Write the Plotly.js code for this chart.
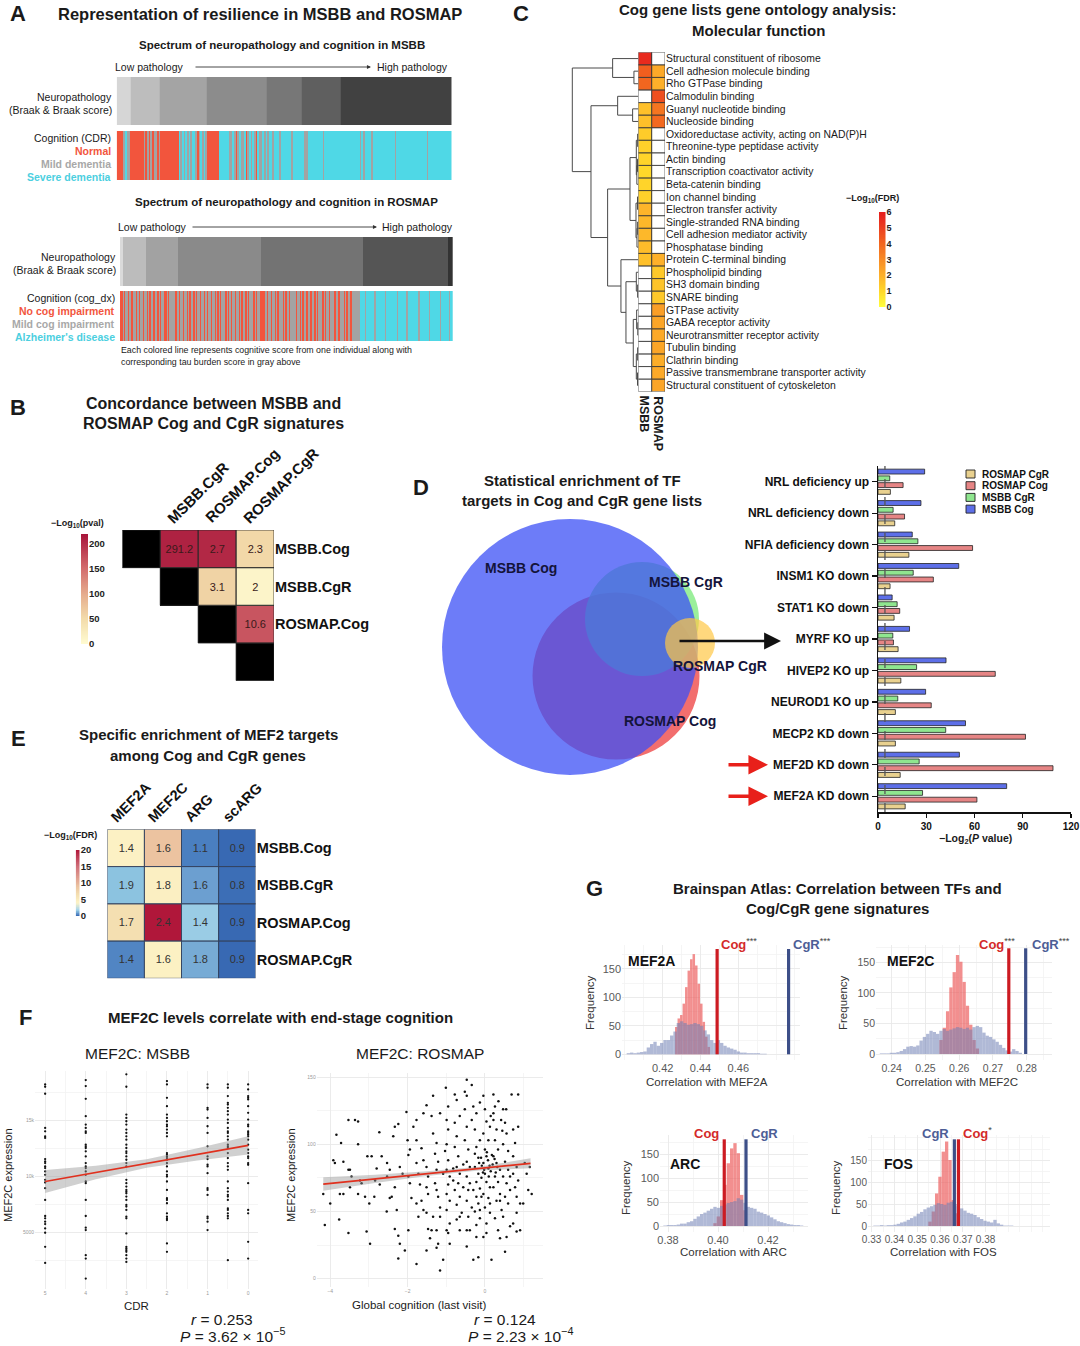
<!DOCTYPE html>
<html>
<head>
<meta charset="utf-8">
<script src="https://cdn.plot.ly/plotly-3.0.1.min.js"></script>
<style>
html,body{margin:0;padding:0;background:#ffffff;}
#fig{width:1080px;height:1346px;}
</style>
</head>
<body>
<div id="fig"></div>
<script>
// ======================= DATA =======================
// --- Panel A: Braak stage shares (% of individuals, stages 0..6) and cognition per individual
const braakStages = [0, 1, 2, 3, 4, 5, 6];
const msbbBraakShare = [4.3, 8.6, 14.1, 17.9, 10.2, 11.8, 33.1];
const rosmapBraakShare = [1.0, 6.8, 9.5, 25.0, 30.6, 25.8, 1.3];
const cognitionClasses = ['R', 'G', 'C']; // normal / mild / severe
const msbbCognition = ["RRRR","GCGG","RRRRRRRR","GRG","RGRGGRG","RRRRRRRRRRR","CGCGC","GCGCCGRGCGCG","RRRRRRR","CCCCCCG",
  "GCGRGCGGCRGCGCGRCGGCGC","GCCGCCCGCC","CCCCGCCCCC","CCGGCCCCCC","CCCGCCCCCC","CCCCCCCCCC","CCCCCGCGCC",
  "CCGCCCCCCC","CCCCCCGCCC","CCCCCCCCCC","CCCCCGCCCC","CCCCCCCCCC"].join('');
const rosmapCognition = ["RRGRGGRGRRGGRGRGGRGG","RGRGGRGGRGRGGRRGRGGG","GRRGRGGRGGRGRGGRGRGG","RGGRGRGGRGGRGRGRGGGR",
  "GRGRGGRGGRGRGGRGRGGG","RGRGGRRRRGRGGRGGRGRG","GGRGRGGRGGGGRGGRGRGG","RGGRGGRGRGGGRGRGGRGG","GRGGRGGGRGRGGRGGGGGG",
  "CCCCGCCCCC","CGCCCCCCCG","CCCCCCCCGC","CCCCCGCCCC","CCCCGCCCCC","CCGCCCCCCC","GCCCCCCGCC"].join('');

// --- Panel C: GO molecular function, -log10(FDR)
const goTerms = ["Structural constituent of ribosome","Cell adhesion molecule binding","Rho GTPase binding","Calmodulin binding",
  "Guanyl nucleotide binding","Nucleoside binding","Oxidoreductase activity, acting on NAD(P)H","Threonine-type peptidase activity",
  "Actin binding","Transcription coactivator activity","Beta-catenin binding","Ion channel binding","Electron transfer activity",
  "Single-stranded RNA binding","Cell adhesion mediator activity","Phosphatase binding","Protein C-terminal binding",
  "Phospholipid binding","SH3 domain binding","SNARE binding","GTPase activity","GABA receptor activity",
  "Neurotransmitter receptor activity","Tubulin binding","Clathrin binding","Passive transmembrane transporter activity",
  "Structural constituent of cytoskeleton"];
const goColumns = ['MSBB', 'ROSMAP'];
const goMSBB = [5.6,4.2,4.0,null,1.6,1.6,1.3,1.2,1.1,1.0,1.1,1.2,1.9,1.8,1.8,1.7,1.6,null,null,null,null,null,null,null,null,null,null];
const goROSMAP = [null,2.2,2.0,4.6,3.6,3.9,null,null,null,null,null,null,null,null,null,null,2.0,1.4,1.5,1.4,2.5,2.3,2.2,2.3,2.1,2.2,2.3];
// dendrogram: [left, right, mergeHeight], leaves are row indices
const goTree = [[0,[1,2,0.66],3.89],
  [[3,[4,5,0.86],3.13],
   [[[[6,7,0.1],[[8,9,0.12],10,0.22],0.3],[[11,12,0.12],[[13,14,0.1],15,0.2],0.35],1.26],
    [16,[[17,[18,19,0.1],0.3],[[20,[21,22,0.08],0.25],[[23,24,0.1],[25,26,0.12],0.3],0.76],1.87],2.63],4.65],7.17],10];

// --- Panel B: concordance
const sigNames = ['MSBB.Cog','MSBB.CgR','ROSMAP.Cog','ROSMAP.CgR'];
const overlapNegLogP = [[null,210,205,55],[null,null,60,12],[null,null,null,170],[null,null,null,null]];
const overlapOddsRatio = [[null,291.2,2.7,2.3],[null,null,3.1,2],[null,null,null,10.6],[null,null,null,null]];

// --- Panel D: TF target enrichment, -log2(P)
const tfLists = ["NRL deficiency up","NRL deficiency down","NFIA deficiency down","INSM1 KO down","STAT1 KO down","MYRF KO up",
  "HIVEP2 KO up","NEUROD1 KO up","MECP2 KD down","MEF2D KD down","MEF2A KD down"];
const tfMSBBCog   = [29.0,26.7,21.3,50.2,8.8,19.6,42.3,29.6,54.4,50.6,80.0];
const tfMSBBCgR   = [7.3,9.4,24.8,21.9,11.9,9.2,24.0,12.3,42.1,25.6,27.7];
const tfROSMAPCog = [15.6,16.5,58.8,34.4,13.5,9.6,72.9,33.1,91.7,108.8,61.5];
const tfROSMAPCgR = [7.7,10.4,19.2,7.5,10.0,12.5,14.2,10.8,10.8,13.8,16.9];
const tfThreshold = 4.32; // -log2(0.05)
const tfHighlighted = ["MEF2D KD down", "MEF2A KD down"];
const vennNames = ['ROSMAP Cog','MSBB CgR','MSBB Cog','ROSMAP CgR'];
const vennCX = [186, 212, 140, 260];
const vennCY = [114, 171, 143, 147];
const vennR  = [83.5, 57, 128, 25];

// --- Panel E: MEF2 target enrichment
const mefTargets = ['MEF2A','MEF2C','ARG','scARG'];
const mefNegLogFDR = [[4.2,9.0,0.5,0.1],[1.6,4.5,1.0,0.2],[6.5,20,1.8,0.1],[0.6,4.3,1.2,0.1]];
const mefOddsRatio = [[1.4,1.6,1.1,0.9],[1.9,1.8,1.6,0.8],[1.7,2.4,1.4,0.9],[1.4,1.6,1.8,0.9]];

// --- Panel F: MEF2C expression vs cognition
const msbbCDR = [5, 4, 3, 2, 1, 0.5, 0];
const msbbMEF2C = [
  [18250,18040,17410,14350,14050,13600,13450,11560,11350,11200,10900,10750,10450,10150,9700,9460,8950,7900,6460,6250,5950,5740,5350,4960,3700,2260],
  [18640,18100,16960,15400,14650,14350,14050,13900,12850,12700,12550,12250,11800,11200,10900,10750,10450,10150,9550,9400,7900,6460,5410,5200,2950,2650,850],
  [19150,18040,15550,15250,14950,14650,14200,13900,13600,13300,12850,12550,12250,12100,11800,11500,11200,10900,9700,9400,9100,8800,8650,8500,8200,7900,7450,7300,7000,6400,6250,4900,3700,3550,3400,3250,2950,2650,2350],
  [18550,18250,17050,16300,15550,15250,14950,14650,14500,14200,13900,13600,12100,11950,11800,11650,11500,11200,10900,10450,10150,10000,9550,8800,8050,7900,7600,6700,6400,6250,6100,4000,3250],
  [18250,17950,16150,16000,15250,14500,13900,12700,11800,11560,11050,10900,10300,8950,8800,8350,6400,6250,5950,5200],
  [18250,17950,17200,16600,16450,16150,15850,15550,15100,14800,14350,14050,13900,13600,13300,12850,12700,12550,12100,11650,11200,10900,10600,9550,8950,8650,8350,8200,7900,7150,7000,6700,6460,6250,2500],
  [18250,17800,17200,17050,16900,16300,15700,15100,14650,14500,14050,13900,13750,13600,13300,12850,12400,12100,11800,11650,11200,11050,9400,7000,6700,4150,2650]];
const msbbFitCDR  = [5, 3.75, 2.5, 1.25, 0];
const msbbFitMean = [9550, 10360, 11170, 11980, 12790];
const msbbFitLow  = [8530, 9760, 10790, 11430, 11965];
const msbbFitHigh = [10570, 10960, 11550, 12530, 13615];
const rosmapPoints = [
 [-4.18,63],[-4.0,56],[-4.14,40],[-3.77,44],[-3.84,107],[-3.72,101],[-3.92,88],[-3.88,86],[-3.66,87],[-3.53,118],[-3.36,118],[-3.28,117],
 [-3.53,81],[-3.49,81],[-3.45,76],[-3.49,68],[-3.66,63],[-3.75,63],[-3.53,34],[-3.28,100],[-3.23,73],[-3.19,71],[-3.28,63],[-3.1,61],
 [-2.97,26],[-3.06,35],[-3.04,91],[-2.93,91],[-2.73,109],[-2.67,91],[-2.8,82],[-2.84,73],[-2.99,56],[-2.86,61],[-2.72,70],[-2.53,86],
 [-2.53,76],[-2.33,113],[-2.24,115],[-2.37,106],[-2.46,81],[-2.33,68],[-2.41,61],[-2.28,51],[-2.54,50],[-2.46,60],[-2.33,37],[-2.24,15],
 [-2.2,26],[-2.24,32],[-2.2,83],[-2.13,78],
 [-2.03,124],[-2.0,103],[-1.98,92],[-1.98,76],[-1.94,71],[-1.9,60],[-1.98,36],[-2.07,21],[-1.85,113],[-1.77,103],[-1.77,86],[-1.72,78],
 [-1.68,70],[-1.64,58],[-1.77,56],[-1.72,46],[-1.59,123],[-1.64,97],[-1.59,88],[-1.51,83],[-1.47,76],[-1.51,68],[-1.47,63],[-1.51,49],
 [-1.38,36],[-1.42,30],[-1.51,21],[-1.77,11],[-1.34,136],[-1.38,121],[-1.34,108],[-1.25,101],[-1.29,93],[-1.21,87],[-1.25,81],[-1.29,71],
 [-1.25,66],[-1.21,61],[-1.16,53],[-1.34,46],[-1.47,37],[-1.25,36],[-1.21,26],[-1.16,6],[-1.08,14],
 [-1.01,142],[-0.99,118],[-0.95,111],[-0.99,100],[-1.03,95],[-0.95,88],[-0.99,81],[-0.91,76],[-0.95,70],[-0.99,63],[-0.91,58],[-0.99,51],
 [-0.91,41],[-0.95,34],[-0.91,26],[-0.78,137],[-0.73,133],[-0.78,116],[-0.73,106],[-0.78,98],[-0.69,91],[-0.73,83],[-0.65,78],[-0.69,71],
 [-0.78,66],[-0.65,61],[-0.73,55],[-0.6,49],[-0.73,44],[-0.65,36],[-0.52,139],[-0.52,126],[-0.47,113],[-0.52,103],[-0.43,96],[-0.47,87],
 [-0.39,83],[-0.47,76],[-0.39,71],[-0.43,66],[-0.47,58],[-0.34,53],[-0.43,46],[-0.39,36],[-0.47,24],[-0.22,123],[-0.26,111],[-0.22,98],
 [-0.17,90],[-0.26,83],[-0.17,78],[-0.22,72],[-0.13,67],[-0.22,61],[-0.17,56],[-0.26,50],[-0.13,45],[-0.22,40],[-0.17,16],[-0.3,14],
 [-0.34,144],[-0.3,128],[-0.34,118],[-0.04,136],[0,126],[0.04,117],[-0.04,108],[0.09,103],[0,96],[0.04,91],[-0.04,86],[0.09,82],
 [0,78],[-0.09,75],[0.04,72],[0.13,68],[-0.04,63],[0.09,60],[0,53],[0.13,49],[0.04,41],[-0.04,31],[0.22,137],[0.26,128],
 [0.22,118],[0.3,111],[0.26,103],[0.34,96],[0.22,91],[0.3,86],[0.39,81],[0.26,76],[0.34,72],[0.22,68],[0.39,63],[0.3,58],
 [0.43,51],[0.26,45],[0.34,36],[0.17,14],[0.47,126],[0.52,116],[0.56,108],[0.47,100],[0.6,95],[0.52,87],[0.6,81],[0.47,76],
 [0.56,71],[0.65,66],[0.52,61],[0.6,56],[0.47,46],[0.65,39],[0.56,31],[0.52,20],[0.69,137],[0.73,111],[0.78,101],[0.73,91],
 [0.82,83],[0.73,78],[0.86,73],[0.78,68],[0.82,61],[0.91,56],[0.82,49],[0.73,41],[0.86,113],[1.03,86],[1.08,78],[1.12,66],
 [0.99,56],[1.16,83],[1.21,63],[0.91,36],[0.82,35],
 [-1.51,129],[-1.77,118],[-1.94,96],[-1.16,123],[-0.95,128],[-0.65,121],[-0.13,131],[-0.47,136],[0.22,123],[0.13,113],[-0.13,103],[-0.26,93],
 [-0.56,85],[-0.82,82],[-1.08,78],[-0.82,73],[-0.56,68],[-0.3,66],[-0.09,61],[0.13,56],[0.39,58],[0.65,76],[-0.13,51],[-0.65,46],
 [-1.16,46],[-1.59,51],[-0.99,36],[-0.47,36],[0.04,34],[0.39,30],[-0.22,31],[-1.25,23],
 [0.08,88],[-0.08,84],[0.15,80],[0.2,85],[-0.1,90],[0.1,76],[0.18,92],[-0.02,81],[0.28,79],[0.05,94],[-0.15,86],[0.25,89],
 [0.12,84],[-0.05,79],[0.32,83],[0.35,132],[0.42,118],[0.15,121],[0.55,126],[0.45,110],[-0.47,148],[0.86,137]];
const rosmapFitX    = [-4.18, -2.84, -1.5, -0.16, 1.18];
const rosmapFitMean = [70.4, 74.25, 78.1, 81.95, 85.8];
const rosmapFitLow  = [65.4, 71.25, 76.3, 80.55, 82.1];
const rosmapFitHigh = [75.4, 77.25, 79.9, 83.35, 89.5];

// --- Panel G: null-distribution histograms (bin start, bin width, counts) and observed correlations
const mef2aCogStart = 0.42653, mef2aCogWidth = 0.001323;
const mef2aCogNull = [48,63,69,89,118,147,167,176,156,124,89,57,31,13];
const mef2aCgRStart = 0.40095, mef2aCgRWidth = 0.001764;
const mef2aCgRNull = [2,3,2,3,4,5,12,18,22,15,20,25,25,33,40,55,58,55,52,53,55,53,50,42,35,25,20,25,20,15,12,10,8,5,3,3,2,2,2,2,1,1];
const mef2aObserved = {Cog: 0.4488, CgR: 0.4866};
const mef2cCogStart = 0.25412, mef2cCogWidth = 0.00098;
const mef2cCogNull = [23,43,70,109,134,162,151,118,79,48,23,9];
const mef2cCgRStart = 0.23647, mef2cCgRWidth = 0.00098;
const mef2cCgRNull = [1,1,1,2,2,3,5,8,12,13,12,14,22,28,33,38,36,33,38,41,38,40,42,44,43,41,43,40,44,46,44,35,30,28,24,20,15,10,6,4,8,5,2];
const mef2cObserved = {Cog: 0.2747, CgR: 0.2797};
const arcCogStart = 0.39813, arcCogWidth = 0.001333;
const arcCogNull = [6,20,54,86,131,162,173,152,65,33];
const arcCgRStart = 0.37813, arcCgRWidth = 0.001333;
const arcCgRNull = [1,2,2,2,3,5,5,8,10,15,20,25,28,32,36,40,38,42,45,48,50,52,58,55,48,40,38,36,30,28,25,22,18,14,10,8,6,4,3,2,2,1];
const arcObserved = {Cog: 0.4025, CgR: 0.4112};
const fosCogStart = 0.35487, fosCogWidth = 0.001462;
const fosCogNull = [10,33,74,112,169,192,150,59,29];
const fosCgRStart = 0.33075, fosCgRWidth = 0.001462;
const fosCgRNull = [1,1,2,1,2,2,3,5,8,10,14,18,22,28,32,38,42,45,48,52,50,48,53,55,50,45,40,35,30,28,25,20,16,12,10,8,14,6,3,1,1,1];
const fosObserved = {Cog: 0.3681, CgR: 0.3663};

// ======================= DRAWING =======================
const FONT = 'Liberation Sans, Arial, Helvetica, sans-serif';
const W = 1080, H = 1346;
const fx = v => v / W, fy = v => 1 - v / H;
const COG_RED = '#f2553d', COG_GREY = '#a3a3a3', COG_CYAN = '#4fd8e6';
const GRID = '#e8e8e8', GRID2 = '#f3f3f3';

const layout = {
  width: W, height: H, margin: {l: 0, r: 0, t: 0, b: 0, pad: 0},
  paper_bgcolor: '#ffffff', plot_bgcolor: 'rgba(0,0,0,0)',
  font: {family: FONT, size: 11, color: '#222'},
  barmode: 'group', bargap: 0.14, bargroupgap: 0.28,
  hovermode: false, showlegend: false, dragmode: false,
  annotations: [], shapes: []
};
const data = [];
let nAx = 0;
const baseAx = {showgrid: false, zeroline: false, showticklabels: false, ticks: '', showline: false, fixedrange: true, automargin: false};
function axes(xPx, yPx, xo, yo) {
  nAx++;
  const s = nAx === 1 ? '' : String(nAx);
  layout['xaxis' + s] = Object.assign({}, baseAx, {domain: [xPx[0] / W, xPx[1] / W], anchor: 'y' + s}, xo || {});
  layout['yaxis' + s] = Object.assign({}, baseAx, {domain: [1 - yPx[1] / H, 1 - yPx[0] / H], anchor: 'x' + s}, yo || {});
  return {x: 'x' + s, y: 'y' + s};
}
function txt(text, x, y, size, o) {
  o = o || {};
  const a = {text: o.bold ? '<b>' + text + '</b>' : text, xref: 'paper', yref: 'paper', x: fx(x), y: fy(y),
    showarrow: false, xanchor: o.xa || 'center', yanchor: o.ya || 'middle', align: 'center', borderpad: 0,
    font: {family: FONT, size: size, color: o.color || '#1a1a1a'}};
  if (o.angle !== undefined) a.textangle = o.angle;
  layout.annotations.push(a);
}
function arrow(x0, x1, y, color, width, size) {
  layout.annotations.push({xref: 'paper', yref: 'paper', x: fx(x1), y: fy(y), ax: x0 - x1, ay: 0, text: '',
    showarrow: true, arrowhead: 2, arrowsize: size, arrowwidth: width, arrowcolor: color, standoff: 0});
}
function cellBox(ax, c, r, color, w) {
  layout.shapes.push({type: 'rect', xref: ax.x, yref: ax.y, x0: c - 0.5, x1: c + 0.5, y0: r - 0.5, y1: r + 0.5,
    line: {color: color, width: w}, fillcolor: 'rgba(0,0,0,0)', layer: 'above'});
}
function strip(levels) { return levels.map(v => [v]); }
function rangeSteps(a, b, n) { const o = []; for (let i = 0; i <= n; i++) o.push(a + (b - a) * i / n); return o; }

// ---------------- Panel A ----------------
txt('A', 18, 14, 22, {bold: true});
txt('Representation of resilience in MSBB and ROSMAP', 260, 14, 16.5, {bold: true});
function cumEdges(share) { const e = [0]; share.forEach(v => e.push(e[e.length - 1] + v)); return e; }
function discreteScale(colors) { return colors.map((c, i) => [i / (colors.length - 1), c]); }
function braakBar(xPx, yPx, share, greys) {
  const ax = axes(xPx, yPx, {range: [0, 100]}, {range: [-0.5, 0.5]});
  data.push({type: 'heatmap', xaxis: ax.x, yaxis: ax.y, x: cumEdges(share), y: [0], z: [braakStages], zmin: 0, zmax: 6,
    colorscale: discreteScale(greys), showscale: false, hoverinfo: 'skip'});
}
function cogStrip(xPx, yPx, str) {
  const codes = [...str].map(ch => cognitionClasses.indexOf(ch));
  const ax = axes(xPx, yPx, {range: [-0.5, codes.length - 0.5]}, {range: [-0.5, 0.5]});
  data.push({type: 'heatmap', xaxis: ax.x, yaxis: ax.y, z: [codes], zmin: 0, zmax: 2,
    colorscale: [[0, COG_RED], [0.5, COG_GREY], [1, COG_CYAN]], showscale: false, hoverinfo: 'skip'});
}
txt('Spectrum of neuropathology and cognition in MSBB', 282, 45, 11.5, {bold: true});
txt('Low pathology', 114, 67, 10.5, {xa: 'left'});
arrow(194, 371, 67, '#333', 0.9, 0.9);
txt('High pathology', 449, 67, 10.5, {xa: 'right'});
braakBar([116.7, 451.7], [77, 125], msbbBraakShare, ['#d6d6d6','#bdbdbd','#a4a4a4','#8c8c8c','#777777','#5f5f5f','#414141']);
cogStrip([116.7, 451.7], [131, 180], msbbCognition);
txt('Neuropathology', 113, 97, 10.5, {xa: 'right'});
txt('(Braak &amp; Braak score)', 113, 110, 10.5, {xa: 'right'});
txt('Cognition (CDR)', 112, 138, 10.5, {xa: 'right'});
txt('Normal', 112, 151, 10.5, {xa: 'right', bold: true, color: COG_RED});
txt('Mild dementia', 112, 164, 10.5, {xa: 'right', bold: true, color: '#a8a8a8'});
txt('Severe dementia', 112, 177, 10.5, {xa: 'right', bold: true, color: '#4ccfdf'});

txt('Spectrum of neuropathology and cognition in ROSMAP', 286, 202, 11.5, {bold: true});
txt('Low pathology', 117, 227, 10.5, {xa: 'left'});
arrow(191, 377, 227, '#333', 0.9, 0.9);
txt('High pathology', 454, 227, 10.5, {xa: 'right'});
braakBar([120, 452.7], [237, 286], rosmapBraakShare, ['#dadada','#bcbcbc','#a2a2a2','#8a8a8a','#737373','#555555','#333333']);
cogStrip([120, 452.7], [291, 341], rosmapCognition);
txt('Neuropathology', 117, 257, 10.5, {xa: 'right'});
txt('(Braak &amp; Braak score)', 117, 270, 10.5, {xa: 'right'});
txt('Cognition (cog_dx)', 116, 298, 10.5, {xa: 'right'});
txt('No cog impairment', 116, 311, 10.5, {xa: 'right', bold: true, color: COG_RED});
txt('Mild cog impairment', 116, 324, 10.5, {xa: 'right', bold: true, color: '#a8a8a8'});
txt("Alzheimer's disease", 116, 337, 10.5, {xa: 'right', bold: true, color: '#4ccfdf'});
txt('Each colored line represents cognitive score from one individual along with', 120, 350, 8.8, {xa: 'left'});
txt('corresponding tau burden score in gray above', 120, 362, 8.8, {xa: 'left'});

// ---------------- Panel C ----------------
txt('C', 521, 14, 22, {bold: true});
txt('Cog gene lists gene ontology analysis:', 758, 10, 15, {bold: true});
txt('Molecular function', 758, 30, 15, {bold: true});
const rowIdx = goTerms.map((_, i) => i);
const axDen = axes([570, 638.3], [52.3, 391.7], {range: [10.35, 0]}, {range: [goTerms.length - 0.5, -0.5]});
const segs = {x: [], y: []};
(function dendro(node) {
  if (typeof node === 'number') return {pos: node, h: 0};
  const L = dendro(node[0]), R = dendro(node[1]), h = node[2];
  segs.x.push(L.h, h, h, R.h, null);
  segs.y.push(L.pos, L.pos, R.pos, R.pos, null);
  return {pos: (L.pos + R.pos) / 2, h: h};
})(goTree);
data.push({type: 'scatter', mode: 'lines', xaxis: axDen.x, yaxis: axDen.y, x: segs.x, y: segs.y,
  line: {color: '#4a4a4a', width: 1}, showlegend: false, hoverinfo: 'skip'});
const goScale = [[0,'#ffff3c'],[0.17,'#ffd72a'],[0.33,'#fdb12a'],[0.5,'#f88b25'],[0.67,'#f2651f'],[0.83,'#ec4020'],[1,'#e51c1c']];
const axGO = axes([638.3, 665], [52.3, 391.7], {range: [-0.5, 1.5]},
  {range: [goTerms.length - 0.5, -0.5], side: 'right', showticklabels: true, tickmode: 'array', tickvals: rowIdx, ticktext: goTerms,
   tickfont: {family: FONT, size: 10.4, color: '#1a1a1a'}});
data.push({type: 'heatmap', xaxis: axGO.x, yaxis: axGO.y, x: [0, 1], y: rowIdx,
  z: goTerms.map((_, r) => [goMSBB[r], goROSMAP[r]]), zmin: 0, zmax: 6, colorscale: goScale, showscale: false, hoverinfo: 'skip'});
goTerms.forEach((_, r) => goColumns.forEach((__, c) => cellBox(axGO, c, r, '#3a3a3a', 0.7)));
goColumns.forEach((name, c) => layout.annotations.push({text: '<b>' + name + '</b>', xref: axGO.x, yref: 'paper', x: c, y: fy(394),
  xanchor: 'center', yanchor: 'top', textangle: 90, showarrow: false, font: {family: FONT, size: 12.5, color: '#1a1a1a'}}));
const goLevels = rangeSteps(0, 6, 120);
const axGOcb = axes([879, 885.5], [212, 307], {range: [-0.5, 0.5]},
  {range: [0, 6], side: 'right', showticklabels: true, tickmode: 'array', tickvals: [0,1,2,3,4,5,6],
   ticktext: [0,1,2,3,4,5,6].map(v => '<b>' + v + '</b>'), tickfont: {family: FONT, size: 9, color: '#222'}});
data.push({type: 'heatmap', xaxis: axGOcb.x, yaxis: axGOcb.y, x: [0], y: goLevels, z: strip(goLevels), zmin: 0, zmax: 6,
  colorscale: goScale, showscale: false, hoverinfo: 'skip'});
txt('−Log<sub>10</sub>(FDR)', 872, 198, 9, {bold: true});

// ---------------- Panel B ----------------
txt('B', 18, 407, 22, {bold: true});
txt('Concordance between MSBB and', 213, 403, 16, {bold: true});
txt('ROSMAP Cog and CgR signatures', 213, 423, 16, {bold: true});
const bScale = [[0,'#fffcd2'],[0.23,'#f3dcab'],[0.45,'#e6ae8e'],[0.7,'#d26a6c'],[1,'#a8153a']];
const sIdx = sigNames.map((_, i) => i);
const axB = axes([122.3, 274], [530, 680.7], {range: [-0.5, 3.5]},
  {range: [3.5, -0.5], side: 'right', showticklabels: true, tickmode: 'array', tickvals: [0, 1, 2],
   ticktext: sigNames.slice(0, 3).map(s => '<b>' + s + '</b>'), tickfont: {family: FONT, size: 14.5, color: '#111'}});
data.push({type: 'heatmap', xaxis: axB.x, yaxis: axB.y, x: sIdx, y: sIdx, z: overlapNegLogP, zmin: 0, zmax: 220, colorscale: bScale,
  text: overlapOddsRatio.map(r => r.map(v => v === null ? '' : String(v))), texttemplate: '%{text}',
  textfont: {family: FONT, size: 11, color: '#3a1a1a'}, showscale: false, hoverinfo: 'skip'});
data.push({type: 'heatmap', xaxis: axB.x, yaxis: axB.y, x: sIdx, y: sIdx,
  z: sigNames.map((_, r) => sigNames.map((__, c) => r === c ? 1 : null)), colorscale: [[0, '#000'], [1, '#000']],
  showscale: false, hoverinfo: 'skip'});
sigNames.forEach((_, r) => sigNames.forEach((__, c) => { if (c >= r) cellBox(axB, c, r, '#2a2a2a', 0.8); }));
sigNames.slice(1).forEach((name, i) => layout.annotations.push({text: '<b>' + name + '</b>', xref: axB.x, yref: 'paper',
  x: i + 1, y: fy(529), xanchor: 'left', yanchor: 'bottom', xshift: -18, textangle: -45, showarrow: false,
  font: {family: FONT, size: 15, color: '#111'}}));
const bLevels = rangeSteps(0, 220, 110);
const axBcb = axes([81, 88], [534, 644], {range: [-0.5, 0.5]},
  {range: [0, 220], side: 'right', showticklabels: true, tickmode: 'array', tickvals: [0, 50, 100, 150, 200],
   ticktext: [0, 50, 100, 150, 200].map(v => '<b>' + v + '</b>'), tickfont: {family: FONT, size: 9.5, color: '#222'}});
data.push({type: 'heatmap', xaxis: axBcb.x, yaxis: axBcb.y, x: [0], y: bLevels, z: strip(bLevels), zmin: 0, zmax: 220,
  colorscale: bScale, showscale: false, hoverinfo: 'skip'});
txt('−Log<sub>10</sub>(pval)', 77, 524, 9, {bold: true});

// ---------------- Panel D ----------------
txt('D', 421, 487, 22, {bold: true});
txt('Statistical enrichment of TF', 582, 480, 15, {bold: true});
txt('targets in Cog and CgR gene lists', 582, 500, 15, {bold: true});
const axV = axes([430, 750], [500, 790], {range: [0, 320]}, {range: [0, 290]});
const vennFill = ['rgb(242,110,110)', 'rgba(130,235,130,0.8)', 'rgba(60,80,245,0.75)', 'rgba(255,200,70,0.7)'];
vennNames.forEach((n, i) => layout.shapes.push({type: 'circle', xref: axV.x, yref: axV.y,
  x0: vennCX[i] - vennR[i], x1: vennCX[i] + vennR[i], y0: vennCY[i] - vennR[i], y1: vennCY[i] + vennR[i],
  fillcolor: vennFill[i], line: {width: 0}, layer: 'above'}));
txt('MSBB Cog', 521, 568, 14, {bold: true, color: '#14143a'});
txt('MSBB CgR', 686, 582, 14, {bold: true, color: '#14143a'});
txt('ROSMAP CgR', 720, 666, 14, {bold: true, color: '#14143a'});
txt('ROSMAP Cog', 670, 721, 14, {bold: true, color: '#14143a'});
arrow(678, 781, 641, '#111', 2.6, 1.3);

const tfOrder = tfLists.slice().reverse();
const axD = axes([878, 1071], [466, 812],
  {range: [0, 120], showticklabels: true, tickmode: 'array', tickvals: [0, 30, 60, 90, 120],
   ticktext: [0, 30, 60, 90, 120].map(v => '<b>' + v + '</b>'), ticks: 'outside', ticklen: 4, tickwidth: 1.2, tickcolor: '#111',
   showline: true, linecolor: '#111', linewidth: 1.5, tickfont: {family: FONT, size: 10, color: '#111'}},
  {type: 'category', categoryorder: 'array', categoryarray: tfOrder, showticklabels: true, tickmode: 'array',
   tickvals: tfOrder, ticktext: tfOrder.map(s => '<b>' + s + '</b>'), ticks: 'outside', ticklen: 5, tickwidth: 1.2, tickcolor: '#111',
   showline: true, linecolor: '#111', linewidth: 1.5, tickfont: {family: FONT, size: 12, color: '#111'}});
const tfSeries = [['ROSMAP CgR', tfROSMAPCgR, '#e9d18f'], ['ROSMAP Cog', tfROSMAPCog, '#e68585'],
  ['MSBB CgR', tfMSBBCgR, '#8fe68f'], ['MSBB Cog', tfMSBBCog, '#5d6fe8']];
tfSeries.forEach(s => data.push({
  type: 'bar', orientation: 'h', xaxis: axD.x, yaxis: axD.y, name: s[0], x: s[1], y: tfLists,
  marker: {color: s[2], line: {color: '#222', width: 0.8}}, showlegend: false, hoverinfo: 'skip'}));
// legend (drawn as keys + labels)
tfSeries.forEach((s, i) => {
  const yc = 474 + i * 11.7;
  layout.shapes.push({type: 'rect', xref: 'paper', yref: 'paper', x0: fx(966), x1: fx(975), y0: fy(yc + 4), y1: fy(yc - 4),
    fillcolor: s[2], line: {color: '#222', width: 0.9}, layer: 'above'});
  txt(s[0], 981, yc, 10, {xa: 'left', bold: true, color: '#111'});
});
layout.shapes.push({type: 'line', xref: axD.x, yref: axD.y + ' domain', x0: tfThreshold, x1: tfThreshold, y0: 0, y1: 1,
  line: {color: '#555', width: 1.3, dash: 'dash'}, layer: 'above'});
// red arrows pointing at highlighted MEF2 lists (placed at the category rows through the axis)
tfHighlighted.forEach(name => layout.annotations.push({xref: 'paper', yref: axD.y, x: fx(768), y: name, ax: -41, ay: 0, text: '',
  showarrow: true, arrowhead: 2, arrowsize: 1.15, arrowwidth: 3.4, arrowcolor: '#e8201a', standoff: 0}));
txt('−Log<sub>2</sub>(<i>P</i> value)', 975, 839, 10.5, {bold: true});

// ---------------- Panel E ----------------
txt('E', 18, 738, 22, {bold: true});
txt('Specific enrichment of MEF2 targets', 208, 735, 15, {bold: true});
txt('among Cog and CgR genes', 208, 755, 15, {bold: true});
const eScale = [[0,'#3363b0'],[0.025,'#4a7fc0'],[0.05,'#6c9fd0'],[0.08,'#8cc3e0'],[0.1,'#a8d5ea'],[0.2,'#fdf3c6'],
  [0.33,'#f4deb0'],[0.45,'#ecc3a0'],[0.75,'#d0707a'],[1,'#b0173a']];
const mIdx = mefTargets.map((_, i) => i);
const axE = axes([107.3, 255.7], [829.3, 978.3], {range: [-0.5, 3.5]},
  {range: [3.5, -0.5], side: 'right', showticklabels: true, tickmode: 'array', tickvals: sIdx,
   ticktext: sigNames.map(s => '<b>' + s + '</b>'), tickfont: {family: FONT, size: 14.5, color: '#111'}});
data.push({type: 'heatmap', xaxis: axE.x, yaxis: axE.y, x: mIdx, y: sIdx, z: mefNegLogFDR, zmin: 0, zmax: 20, colorscale: eScale,
  text: mefOddsRatio.map(r => r.map(v => String(v))), texttemplate: '%{text}',
  textfont: {family: FONT, size: 11, color: '#333'}, showscale: false, hoverinfo: 'skip'});
sigNames.forEach((_, r) => mefTargets.forEach((__, c) => cellBox(axE, c, r, '#34425e', 0.8)));
mefTargets.forEach((name, i) => layout.annotations.push({text: '<b>' + name + '</b>', xref: axE.x, yref: 'paper',
  x: i, y: fy(828), xanchor: 'left', yanchor: 'bottom', xshift: -21, textangle: -45, showarrow: false,
  font: {family: FONT, size: 14.5, color: '#111'}}));
const eLevels = rangeSteps(0, 20, 100);
const axEcb = axes([75.7, 79.7], [850, 916], {range: [-0.5, 0.5]},
  {range: [0, 20], side: 'right', showticklabels: true, tickmode: 'array', tickvals: [0, 5, 10, 15, 20],
   ticktext: [0, 5, 10, 15, 20].map(v => '<b>' + v + '</b>'), tickfont: {family: FONT, size: 9.5, color: '#222'}});
data.push({type: 'heatmap', xaxis: axEcb.x, yaxis: axEcb.y, x: [0], y: eLevels, z: strip(eLevels), zmin: 0, zmax: 20,
  colorscale: eScale, showscale: false, hoverinfo: 'skip'});
txt('−Log<sub>10</sub>(FDR)', 70, 835, 9, {bold: true});

// ---------------- Panel F ----------------
txt('F', 25, 1017, 22, {bold: true});
txt('MEF2C levels correlate with end-stage cognition', 280, 1017, 15, {bold: true});
txt('MEF2C: MSBB', 137, 1053, 15.5);
txt('MEF2C: ROSMAP', 420, 1053, 15.5);
const gridAx = {showgrid: true, gridcolor: GRID, gridwidth: 0.8, showticklabels: true, tickfont: {family: FONT, size: 5, color: '#9a9a9a'}};
const axFM = axes([35, 258.3], [1071, 1289],
  Object.assign({}, gridAx, {range: [5.25, -0.25], tickmode: 'array', tickvals: [0, 1, 2, 3, 4, 5], minor: {showgrid: true, gridcolor: GRID2, dtick: 0.5, tick0: 0}}),
  Object.assign({}, gridAx, {range: [-80, 19450], tickmode: 'array', tickvals: [5000, 10000, 15000], minor: {showgrid: true, gridcolor: GRID2, dtick: 2500, tick0: 0}}));
const msX = [], msY = [];
msbbCDR.forEach((c, i) => msbbMEF2C[i].forEach(v => { msX.push(c); msY.push(v); }));
data.push({type: 'scatter', mode: 'markers', xaxis: axFM.x, yaxis: axFM.y, x: msX, y: msY,
  marker: {size: 2.3, color: '#111'}, showlegend: false, hoverinfo: 'skip'});
data.push({type: 'scatter', mode: 'lines', xaxis: axFM.x, yaxis: axFM.y, x: msbbFitCDR.concat(msbbFitCDR.slice().reverse()),
  y: msbbFitHigh.concat(msbbFitLow.slice().reverse()), fill: 'toself', fillcolor: 'rgba(150,150,150,0.45)', line: {width: 0},
  showlegend: false, hoverinfo: 'skip'});
data.push({type: 'scatter', mode: 'lines', xaxis: axFM.x, yaxis: axFM.y, x: msbbFitCDR, y: msbbFitMean,
  line: {color: '#e0301e', width: 1.7}, showlegend: false, hoverinfo: 'skip'});
const axFR = axes([316.7, 543.3], [1073, 1287],
  Object.assign({}, gridAx, {range: [-4.35, 1.51], tickmode: 'array', tickvals: [-4, -2, 0], minor: {showgrid: true, gridcolor: GRID2, dtick: 1, tick0: 0}}),
  Object.assign({}, gridAx, {range: [-6.2, 153], tickmode: 'array', tickvals: [0, 50, 100, 150], minor: {showgrid: true, gridcolor: GRID2, dtick: 25, tick0: 0}}));
data.push({type: 'scatter', mode: 'markers', xaxis: axFR.x, yaxis: axFR.y, x: rosmapPoints.map(p => p[0]), y: rosmapPoints.map(p => p[1]),
  marker: {size: 2.5, color: '#111'}, showlegend: false, hoverinfo: 'skip'});
data.push({type: 'scatter', mode: 'lines', xaxis: axFR.x, yaxis: axFR.y, x: rosmapFitX.concat(rosmapFitX.slice().reverse()),
  y: rosmapFitHigh.concat(rosmapFitLow.slice().reverse()), fill: 'toself', fillcolor: 'rgba(150,150,150,0.45)', line: {width: 0},
  showlegend: false, hoverinfo: 'skip'});
data.push({type: 'scatter', mode: 'lines', xaxis: axFR.x, yaxis: axFR.y, x: rosmapFitX, y: rosmapFitMean,
  line: {color: '#e0301e', width: 1.7}, showlegend: false, hoverinfo: 'skip'});
txt('MEF2C expression', 8, 1175, 11, {angle: -90});
txt('MEF2C expression', 291, 1175, 11, {angle: -90});
txt('CDR', 136, 1306, 11.5);
txt('Global cognition (last visit)', 419, 1305, 11.5);
txt('<i>r</i> = 0.253', 222, 1319, 15.5);
txt('<i>P</i> = 3.62 × 10<sup>−5</sup>', 232, 1335, 15.5);
txt('<i>r</i> = 0.124', 505, 1319, 15.5);
txt('<i>P</i> = 2.23 × 10<sup>−4</sup>', 520, 1335, 15.5);

// ---------------- Panel G ----------------
txt('G', 594, 888, 22, {bold: true});
txt('Brainspan Atlas: Correlation between TFs and', 837, 888, 15, {bold: true});
txt('Cog/CgR gene signatures', 837, 908, 15, {bold: true});
function histPanel(o) {
  const gAx = {showgrid: true, gridcolor: GRID, gridwidth: 0.8, showticklabels: true, tickangle: 0,
    tickfont: {family: FONT, size: o.tickSize || 11, color: '#595959'}};
  const ax = axes(o.xPx, o.yPx,
    Object.assign({}, gAx, {range: o.xr, tickmode: 'array', tickvals: o.ticks, ticktext: o.ticks.map(v => v.toFixed(2)),
      minor: {showgrid: true, gridcolor: GRID2, dtick: o.minor, tick0: 0}}),
    Object.assign({}, gAx, {range: o.yr, tickmode: 'array', tickvals: [0, 50, 100, 150], minor: {showgrid: true, gridcolor: GRID2, dtick: 25, tick0: 0}}));
  data.push({type: 'bar', xaxis: ax.x, yaxis: ax.y, x: o.cog.map((_, i) => o.cogStart + (i + 0.5) * o.cogW), y: o.cog,
    width: o.cogW, offset: -o.cogW / 2, marker: {color: 'rgba(236,96,96,0.7)', line: {width: 0}}, showlegend: false, hoverinfo: 'skip'});
  data.push({type: 'bar', xaxis: ax.x, yaxis: ax.y, x: o.cgr.map((_, i) => o.cgrStart + (i + 0.5) * o.cgrW), y: o.cgr,
    width: o.cgrW, offset: -o.cgrW / 2, marker: {color: 'rgba(111,127,181,0.55)', line: {width: 0}}, showlegend: false, hoverinfo: 'skip'});
  [['Cog', '#cc1b22'], ['CgR', '#3d4f88']].forEach(l => layout.shapes.push({type: 'line', xref: ax.x, yref: ax.y,
    x0: o.obs[l[0]], x1: o.obs[l[0]], y0: 0, y1: o.top, line: {color: l[1], width: 3.2}, layer: 'above'}));
  o.labels.forEach(l => layout.annotations.push({text: '<b>' + l.k + '</b>' + (l.stars ? '<sup><span style="color:#444">' + l.stars + '</span></sup>' : ''),
    xref: ax.x, yref: 'paper', x: o.obs[l.k], y: fy(o.labelY), xanchor: l.side, yanchor: 'middle', xshift: l.shift, showarrow: false,
    font: {family: FONT, size: 13, color: l.k === 'Cog' ? '#d42a2a' : '#4d5e96'}}));
  txt(o.gene, o.geneX, o.geneY, 14, {bold: true, color: '#111'});
  txt('Frequency', o.freqX, o.freqY, 11.5, {angle: -90, color: '#333'});
  txt('Correlation with ' + o.gene, o.titleX, o.titleY, 11.5, {color: '#333'});
}
histPanel({gene: 'MEF2A', xPx: [622, 800], yPx: [945, 1060], xr: [0.39847, 0.49265], yr: [-10, 192], ticks: [0.42, 0.44, 0.46], minor: 0.01,
  cog: mef2aCogNull, cogStart: mef2aCogStart, cogW: mef2aCogWidth, cgr: mef2aCgRNull, cgrStart: mef2aCgRStart, cgrW: mef2aCgRWidth,
  obs: mef2aObserved, top: 185, labelY: 944,
  labels: [{k: 'Cog', side: 'left', shift: 2, stars: '***'}, {k: 'CgR', side: 'left', shift: 2, stars: '***'}],
  geneX: 651, geneY: 961, freqX: 590, freqY: 1003, titleX: 707, titleY: 1082});
histPanel({gene: 'MEF2C', xPx: [876, 1052], yPx: [945, 1060], xr: [0.23535, 0.2875], yr: [-9.8, 178.4], ticks: [0.24, 0.25, 0.26, 0.27, 0.28], minor: 0.005,
  tickSize: 10.5,
  cog: mef2cCogNull, cogStart: mef2cCogStart, cogW: mef2cCogWidth, cgr: mef2cCgRNull, cgrStart: mef2cCgRStart, cgrW: mef2cCgRWidth,
  obs: mef2cObserved, top: 173, labelY: 944,
  labels: [{k: 'Cog', side: 'right', shift: 8, stars: '***'}, {k: 'CgR', side: 'left', shift: 4, stars: '***'}],
  geneX: 910, geneY: 961, freqX: 843, freqY: 1003, titleX: 957, titleY: 1082});
histPanel({gene: 'ARC', xPx: [660, 808], yPx: [1135, 1232], xr: [0.3768, 0.436], yr: [-12.5, 190], ticks: [0.38, 0.40, 0.42], minor: 0.01,
  cog: arcCogNull, cogStart: arcCogStart, cogW: arcCogWidth, cgr: arcCgRNull, cgrStart: arcCgRStart, cgrW: arcCgRWidth,
  obs: arcObserved, top: 181, labelY: 1133,
  labels: [{k: 'Cog', side: 'right', shift: -3}, {k: 'CgR', side: 'left', shift: 3}],
  geneX: 685, geneY: 1164, freqX: 626, freqY: 1188, titleX: 733, titleY: 1252});
histPanel({gene: 'FOS', xPx: [868, 1050], yPx: [1135, 1232], xr: [0.32842, 0.40825], yr: [-13.6, 206.8], ticks: [0.33, 0.34, 0.35, 0.36, 0.37, 0.38], minor: 0.005,
  tickSize: 10,
  cog: fosCogNull, cogStart: fosCogStart, cogW: fosCogWidth, cgr: fosCgRNull, cgrStart: fosCgRStart, cgrW: fosCgRWidth,
  obs: fosObserved, top: 197, labelY: 1133,
  labels: [{k: 'CgR', side: 'right', shift: -3}, {k: 'Cog', side: 'left', shift: 3, stars: '*'}],
  geneX: 898, geneY: 1164, freqX: 836, freqY: 1188, titleX: 943, titleY: 1252});

Plotly.newPlot('fig', data, layout, {staticPlot: true, displayModeBar: false});
</script>
</body>
</html>
